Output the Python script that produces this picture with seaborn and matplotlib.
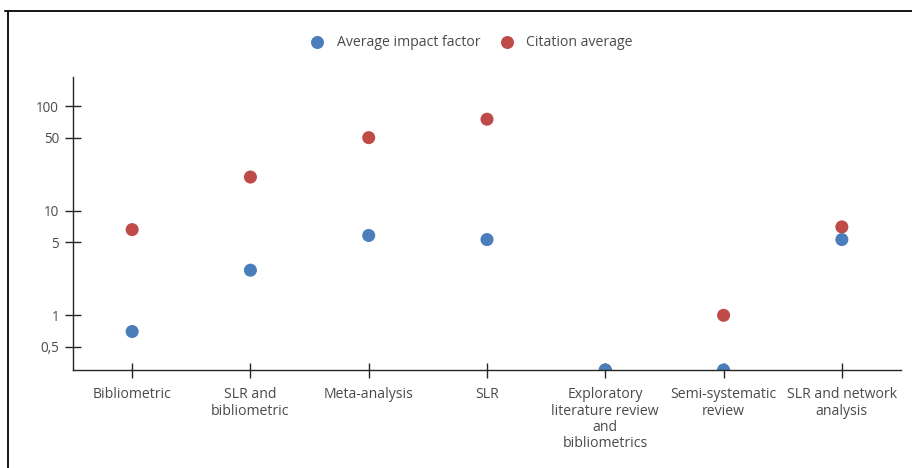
import numpy as np
import pandas as pd
import matplotlib
matplotlib.use('Agg')
import matplotlib.pyplot as plt
import matplotlib.ticker as mticker
from matplotlib.lines import Line2D
import seaborn as sns

sns.set_style('white')
plt.rcParams['font.family'] = ['Open Sans', 'DejaVu Sans']

# data
categories = ['Bibliometric', 'SLR and\nbibliometric', 'Meta-analysis', 'SLR',
              'Exploratory\nliterature review\nand\nbibliometrics',
              'Semi-systematic\nreview', 'SLR and network\nanalysis']
impact_factor = [0.70, 2.7, 5.8, 5.3, 0, 0, 5.3]
citation_avg = [6.6, 21, 50, 75, 0, 1.0, 7.0]
y_ticks = [0.5, 1, 5, 10, 50, 100]
y_tick_labels = ['0,5', '1', '5', '10', '50', '100']

YMIN, YMAX = 0.3, 190
BLUE = '#4a7ebb'
RED = '#be4b48'
TEXT = '#4a4a4a'

df = pd.DataFrame({
    'cat': list(range(len(categories))) * 2,
    'value': citation_avg + impact_factor,
    'series': ['Citation average'] * len(categories) + ['Average impact factor'] * len(categories),
})
# zero values sit on the axis floor of the log scale
df['plot_value'] = df['value'].clip(lower=YMIN)

fig = plt.figure(figsize=(912 / 72, 468 / 72), dpi=72)
ax = fig.add_axes([73 / 912, 1 - 370 / 468, (901 - 73) / 912, (370 - 77) / 468])

sns.scatterplot(data=df, x='cat', y='plot_value', hue='series',
                palette={'Average impact factor': BLUE, 'Citation average': RED},
                s=170, edgecolor='none', linewidth=0, legend=False, ax=ax)

ax.set_yscale('log')
ax.set_ylim(YMIN, YMAX)
ax.set_xlim(-0.5, len(categories) - 0.5)
ax.yaxis.set_major_locator(mticker.FixedLocator(y_ticks))
ax.yaxis.set_major_formatter(mticker.FixedFormatter(y_tick_labels))
ax.yaxis.set_minor_locator(mticker.NullLocator())
ax.set_xticks(range(len(categories)))
ax.set_xticklabels(categories, linespacing=1.1)
ax.set_xlabel('')
ax.set_ylabel('')

for side in ['top', 'right']:
    ax.spines[side].set_visible(False)
for side in ['left', 'bottom']:
    ax.spines[side].set_color('#262626')
    ax.spines[side].set_linewidth(1.4)

ax.tick_params(axis='y', direction='inout', length=16, width=1.4, color='#262626',
               pad=6, labelsize=13.5, labelcolor=TEXT, left=True)
ax.tick_params(axis='x', direction='inout', length=15, width=1.4, color='#262626',
               pad=10, labelsize=14, labelcolor=TEXT, bottom=True)
for coll in ax.collections:
    coll.set_clip_on(True)

handles = [Line2D([], [], marker='o', linestyle='none', markersize=13,
                  markerfacecolor=BLUE, markeredgecolor='none', label='Average impact factor'),
           Line2D([], [], marker='o', linestyle='none', markersize=13,
                  markerfacecolor=RED, markeredgecolor='none', label='Citation average')]
fig.legend(handles=handles, loc='center', bbox_to_anchor=(468 / 912, 1 - 43 / 468),
           ncol=2, frameon=False, fontsize=14, labelcolor=TEXT,
           handletextpad=0.4, columnspacing=0.9)

# frame lines of the original image
fig.add_artist(Line2D([5 / 912, 1], [1 - 11 / 468, 1 - 11 / 468], color='#1a1a1a',
                      linewidth=2, transform=fig.transFigure))
fig.add_artist(Line2D([8 / 912, 8 / 912], [0, 1 - 11 / 468], color='#1a1a1a',
                      linewidth=2, transform=fig.transFigure))

fig.savefig('out.png', dpi=72, facecolor='white')
